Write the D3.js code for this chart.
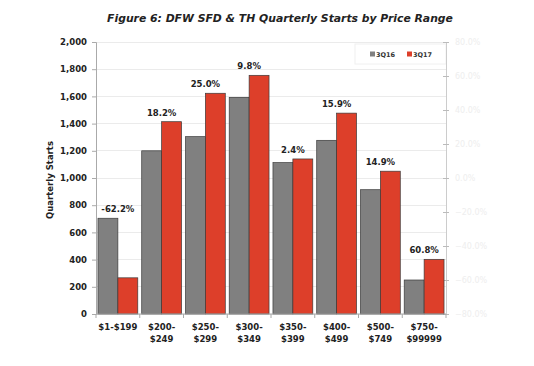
<!DOCTYPE html>
<html><head><meta charset="utf-8">
<script src="https://cdn.jsdelivr.net/npm/d3@7"></script>
<style>body{margin:0;background:#fff}svg{display:block}text{font-family:"DejaVu Sans",Verdana,sans-serif}</style>
</head><body>
<svg id="c" width="534" height="366"></svg>
<script>
const categories = [["$1-$199"],["$200-","$249"],["$250-","$299"],["$300-","$349"],["$350-","$399"],["$400-","$499"],["$500-","$749"],["$750-","$99999"]];
const seriesNames = ["3Q16","3Q17"];
const q3_16 = [704, 1200, 1304, 1593, 1113, 1277, 914, 250];
const q3_17 = [266, 1414, 1623, 1755, 1140, 1477, 1050, 402];
const changeLabels = ["-62.2%","18.2%","25.0%","9.8%","2.4%","15.9%","14.9%","60.8%"];
const yTicks = [0,200,400,600,800,1000,1200,1400,1600,1800,2000];
const rightTicks = [-0.8,-0.6,-0.4,-0.2,0,0.2,0.4,0.6,0.8];
const colors = ["#808080","#dd3f2a"];

const svg = d3.select("#c");
const L=96,R=446,T=42,B=314;
const ids = d3.range(categories.length);
const x = d3.scaleBand().domain(ids).range([L,R]).paddingInner(0.09).paddingOuter(0.045);
const xs = d3.scaleBand().domain([0,1]).range([0,x.bandwidth()]);
const y = d3.scaleLinear().domain([0,2000]).range([B,T]);
const y2 = d3.scaleLinear().domain([-0.8,0.8]).range([B,T]);

// title
const title = svg.append("text").attr("x",280).attr("y",22).attr("text-anchor","middle")
  .style("font-weight","bold").style("font-style","italic").style("font-size","11px").attr("fill","#222")
  .text("Figure 6: DFW SFD & TH Quarterly Starts by Price Range");
const tl = title.node().getComputedTextLength();
title.style("font-size",(11*346/tl).toFixed(2)+"px");

// gridlines
svg.append("g").selectAll("line").data(yTicks).join("line")
  .attr("x1",L).attr("x2",R).attr("y1",d=>y(d)).attr("y2",d=>y(d))
  .attr("stroke","#ebebeb").attr("stroke-width",1).attr("shape-rendering","crispEdges");

// legend box (faint)
svg.append("rect").attr("x",355).attr("y",44).attr("width",R-355).attr("height",20)
  .attr("fill","none").attr("stroke","#f0f0f0");

// left axis
const ay = svg.append("g").attr("transform",`translate(${L},0)`)
  .call(d3.axisLeft(y).tickValues(yTicks).tickFormat(d3.format(",")).tickSize(4).tickPadding(5));
ay.select(".domain").attr("stroke","#aaa");
ay.selectAll(".tick line").attr("stroke","#aaa");
ay.selectAll("text").style("font-size","8.5px").style("font-weight","bold").attr("fill","#222").style("font-family","DejaVu Sans");

// right axis
const ar = svg.append("g").attr("transform",`translate(${R},0)`)
  .call(d3.axisRight(y2).tickValues(rightTicks).tickFormat(d3.format(".1%")).tickSizeInner(3).tickSizeOuter(0).tickPadding(6));
ar.select(".domain").attr("stroke","#ccc");
ar.selectAll(".tick line").attr("stroke","#bbb").attr("x1",-3);
ar.selectAll("text").style("font-size","8px").attr("fill","#eeeeee").style("font-family","DejaVu Sans");

// bars
const series = [q3_16,q3_17];
const g = svg.append("g");
series.forEach((vals,si)=>{
  g.append("g").selectAll("rect").data(vals).join("rect")
    .attr("x",(d,i)=>x(i)+xs(si)).attr("width",xs.bandwidth())
    .attr("y",d=>y(d)).attr("height",d=>B-y(d))
    .attr("fill",colors[si]).attr("stroke","#3a3a3a").attr("stroke-width",0.7);
});

// bottom axis
svg.append("line").attr("x1",L).attr("x2",R).attr("y1",B).attr("y2",B).attr("stroke","#aaa");
const bounds = ids.map(i=>x(i)-x.step()*x.paddingInner()/2).concat([R]);
svg.append("g").selectAll("line").data(bounds).join("line")
  .attr("x1",d=>d).attr("x2",d=>d).attr("y1",B).attr("y2",B+4).attr("stroke","#aaa");
const xl = svg.append("g").selectAll("text").data(categories).join("text")
  .attr("text-anchor","middle").attr("x",(d,i)=>x(i)+x.bandwidth()/2).attr("y",330)
  .style("font-size","8.5px").style("font-weight","bold").attr("fill","#222");
xl.selectAll("tspan").data(d=>d).join("tspan")
  .attr("x",function(){return this.parentNode.getAttribute("x");})
  .attr("dy",(d,i)=>i===0?0:12).text(d=>d);

// data labels
svg.append("g").selectAll("text").data(changeLabels).join("text")
  .attr("text-anchor","middle").attr("x",(d,i)=>x(i)+x.bandwidth()/2)
  .attr("y",(d,i)=>y(Math.max(q3_16[i],q3_17[i]))-6)
  .style("font-size","8.5px").style("font-weight","bold").attr("fill","#222").text(d=>d);

// y title
svg.append("text").attr("transform","translate(53,180) rotate(-90)").attr("text-anchor","middle")
  .style("font-size","8.5px").style("font-weight","bold").attr("fill","#222").text("Quarterly Starts");

// legend
const lg = svg.append("g").attr("transform","translate(370,54)");
seriesNames.forEach((n,i)=>{
  const gx = i*37;
  lg.append("rect").attr("x",gx).attr("y",-2.5).attr("width",5).attr("height",5).attr("fill",colors[i]);
  lg.append("text").attr("x",gx+6).attr("y",2.5).style("font-size","6.5px").style("font-weight","bold").attr("fill","#333").text(n);
});
</script>
</body></html>
